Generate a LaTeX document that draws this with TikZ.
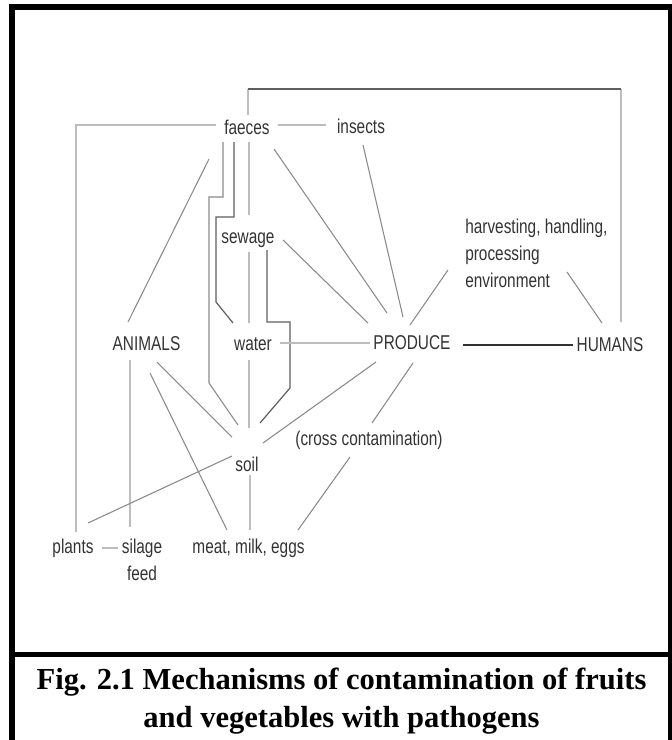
\documentclass[tikz,border=0pt]{standalone}
\usepackage{fontspec}
\setmainfont{Liberation Sans}
\newfontfamily\capfont{Liberation Serif}
\usetikzlibrary{calc}
\definecolor{lightln}{HTML}{BDBDBD}
\definecolor{midln}{HTML}{8A8A8A}
\definecolor{darkln}{HTML}{5E5E5E}
\definecolor{blackln}{HTML}{333333}
\definecolor{txtc}{HTML}{333333}
\newcommand{\nar}[1]{\scalebox{0.77}[1]{#1}}
\tikzset{
  lbl/.style={inner sep=0pt, text=txtc, font=\fontsize{15}{20.25}\selectfont},
  lt/.style={draw=lightln, line width=1.1pt},
  md/.style={draw=midln, line width=0.8pt},
  dk/.style={draw=darkln, line width=0.9pt},
  bk/.style={draw=blackln, line width=1pt},
}
\begin{document}
\begin{tikzpicture}[x=0.75pt,y=-0.75pt]
\useasboundingbox (0,0) rectangle (672,740);
\begin{scope}
\clip (0,0) rectangle (672,740);
% frame
\draw[line width=4.5pt, line join=miter] (12,760) -- (12,7) -- (671,7) -- (671,760);
\draw[line width=3.6pt] (12,654.5) -- (672,654.5);
\end{scope}

% nodes
\node[lbl] (F) at (247,127) {\nar{faeces}};
\node[lbl] (I) at (361,126) {\nar{insects}};
\node[lbl] (S) at (248,240) {\nar{sewage}};
\node[lbl, anchor=west] (H) at (465,255) {\nar{\begin{tabular}{@{}l@{}}harvesting, handling,\\processing\\environment\end{tabular}}};
\node[lbl] (A) at (146.5,344) {\nar{ANIMALS}};
\node[lbl] (W) at (253,344) {\nar{water}};
\node[lbl] (P) at (412,343) {\nar{PRODUCE}};
\node[lbl] (U) at (610,345) {\nar{HUMANS}};
\node[lbl] (C) at (369,440) {\nar{(cross contamination)}};
\node[lbl] (So) at (247,464) {\nar{soil}};
\node[lbl] (Pl) at (73,548) {\nar{plants}};
\node[lbl] (Si) at (142,561.5) {\nar{\begin{tabular}{@{}c@{}}silage\\feed\end{tabular}}};
\node[lbl] (M) at (248.5,548) {\nar{meat, milk, eggs}};

\node[inner sep=0pt, align=center, font=\capfont\bfseries\fontsize{22.9}{29}\selectfont] (cap) at (341.5,701)
  {Fig. 2.1 Mechanisms of contamination of fruits\\and vegetables with pathogens};

% connectors
\draw[lt] ([shift={(31,-2)}]F.center) -- ([shift={(-35,-1)}]I.center);
\draw[lt] ([shift={(-31,-2)}]F.center) -| ([shift={(3,-16)}]Pl.center);
\draw[lt] ([shift={(1,-12)}]F.center) -- ++(0,-26);
\draw[lt] ([shift={(11,-23)}]U.center) -- ++(0,-233);
\draw[dk] ([shift={(1,-38)}]F.center) -- ([shift={(11,-256)}]U.center);
\draw[md] ([shift={(-38,32)}]F.center) -- ([shift={(-18.5,-22)}]A.center);
\draw[md] ([shift={(-24,15)}]F.center) -- ++(0,55) -- ++(-14,0) -- ++(0,186) -- ([shift={(-9,-39)}]So.center);
\draw[dk] ([shift={(-13,15)}]F.center) -- ++(0,75) -- ++(-18,0) -- ++(0,85) -- ([shift={(-20,-21)}]W.center);
\draw[lt] ([shift={(2,15)}]F.center) -- ([shift={(1,-25)}]S.center);
\draw[md] ([shift={(27,22)}]F.center) -- ([shift={(-25,-30)}]P.center);
\draw[md] ([shift={(2,19)}]I.center) -- ([shift={(-9,-26)}]P.center);
\draw[md] ([shift={(35,0)}]S.center) -- ([shift={(-44,-20)}]P.center);
\draw[lt] ([shift={(1,12)}]S.center) -- ([shift={(-4,-21)}]W.center);
\draw[dk] ([shift={(19,10)}]S.center) -- ++(0,72) -- ++(23,0) -- ++(0,66) -- ([shift={(13,-41)}]So.center);
\draw[lt] ([shift={(27,-1)}]W.center) -- ([shift={(-42,0)}]P.center);
\draw[md] ([shift={(-17,15)}]H.west) -- ([shift={(-2,-18)}]P.center);
\draw[md] ([shift={(102,17)}]H.west) -- ([shift={(-8,-22)}]U.center);
\draw[bk] ([shift={(51,2)}]P.center) -- ([shift={(-37,0)}]U.center);
\draw[md] ([shift={(10.5,18)}]A.center) -- ([shift={(-15,-27)}]So.center);
\draw[md] ([shift={(3.5,29)}]A.center) -- ([shift={(-21.5,-18)}]M.center);
\draw[lt] ([shift={(-16.5,16)}]A.center) -- ([shift={(-12,-34.5)}]Si.center);
\draw[lt] ([shift={(-4,16)}]W.center) -- ([shift={(2,-36)}]So.center);
\draw[md] ([shift={(-36,19)}]P.center) -- ([shift={(16,-21)}]So.center);
\draw[md] ([shift={(1,20)}]P.center) -- ([shift={(3,-17)}]C.center);
\draw[md] ([shift={(-19,17)}]C.center) -- ([shift={(49.5,-18)}]M.center);
\draw[md] ([shift={(-15,-8)}]So.center) -- ([shift={(15,-25)}]Pl.center);
\draw[lt] ([shift={(3,11)}]So.center) -- ([shift={(1.5,-18)}]M.center);
\draw[lt] ([shift={(29,0)}]Pl.center) -- ([shift={(-24,-13.5)}]Si.center);
\end{tikzpicture}
\end{document}
